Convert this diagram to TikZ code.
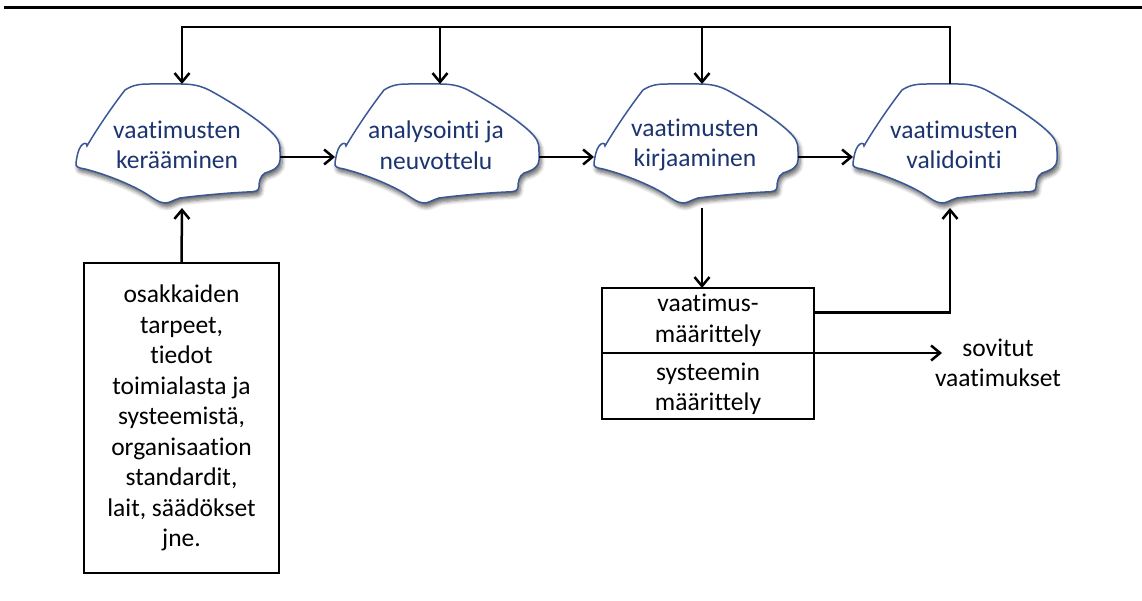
\documentclass[tikz,border=0pt]{standalone}
\usepackage{fontspec}
\setmainfont{Carlito}[Ligatures=NoCommon]
\usetikzlibrary{arrows.meta,shadows.blur,calc}

\definecolor{cloudedge}{RGB}{59,88,150}
\definecolor{cloudink}{RGB}{28,52,112}

\tikzset{
  flow/.style={line width=2.5pt, black},
  arr/.style={flow, -{Straight Barb[length=9pt,width=15pt,line width=2.5pt]}},
  txt/.style={font=\fontsize{25.5}{30.5}\selectfont, align=center, inner sep=0pt},
  framebox/.style={draw, line width=2.5pt, inner sep=0pt, outer sep=0pt},
  cloudshape/.style={draw=cloudedge, line width=1.5pt, fill=white,
    blur shadow={shadow xshift=2pt, shadow yshift=-4pt, shadow blur radius=4pt,
                 shadow blur steps=6, shadow opacity=60}},
  % a process cloud; #1 = label, #2 = x of the feedback entry on its top
  pics/procloud/.style n args={2}{code={
    \draw[cloudshape]
      (50,6) .. controls (58,1) and (64,0) .. (75,0) -- (106,0)
      .. controls (118,0) and (126,2) .. (134,6)
      .. controls (160,20) and (190,40) .. (200,52)
      .. controls (205,58) and (205,62) .. (205,68) -- (205,76)
      .. controls (205,82) and (200,86) .. (190,89)
      .. controls (185,92) and (184,98) .. (184,103)
      .. controls (184,107) and (180,108) .. (172,108)
      .. controls (150,109) and (120,112) .. (105,114)
      .. controls (98,116) and (95,119) .. (90,119)
      .. controls (84,119) and (78,114) .. (70,109)
      .. controls (55,100) and (30,90) .. (10,85)
      .. controls (4,84) and (0,83) .. (1,79)
      .. controls (2,72) and (3,66) .. (6,62)
      .. controls (8,59) and (12,58) .. (12,62)
      .. controls (20,48) and (36,24) .. (50,6) -- cycle;
    \node[txt, text=cloudink] (-t) at (102,61) {#1};
    \coordinate (-in)  at (1,73);
    \coordinate (-out) at (205,73);
    \coordinate (-top) at (#2,0);
    \coordinate (-bot) at (#2,124);
  }}
}

\begin{document}
\begin{tikzpicture}[x=1pt, y=-1pt]
  \useasboundingbox (0,0) rectangle (1142,601);

  % rule across the head of the figure
  \draw[line width=3pt] (4,8) -- (1142,8);

  % the four process stages
  \pic (c1) at (75,84)  {procloud={vaatimusten\\kerääminen}{107}};
  \pic (c2) at (334,84) {procloud={analysointi ja\\neuvottelu}{106}};
  \pic (c3) at (593,84) {procloud={vaatimusten\\kirjaaminen}{109}};
  \pic (c4) at (852,84) {procloud={vaatimusten\\validointi}{98}};

  % inputs and outputs
  \node[framebox, txt, minimum width=195pt, minimum height=310pt] (inp) at (181.5,418)
    {osakkaiden\\tarpeet,\\tiedot\\toimialasta ja\\systeemistä,\\organisaation\\standardit,\\lait, säädökset\\jne.};
  \node[framebox, txt, minimum width=212pt, minimum height=65pt] (vm) at (708,320.5)
    {vaatimus-\\määrittely};
  \node[framebox, minimum width=212pt, minimum height=66pt, anchor=north] (sm) at (vm.south) {};
  \node[txt] (smt) at ($(sm.center)+(0,3)$) {systeemin\\määrittely};
  \node[txt] (sov) at (998,363) {sovitut\\vaatimukset};
  \coordinate (sovin) at (942,353);
  \coordinate (loop) at (0,27);

  % main flow
  \draw[arr] (c1-out) -- (c2-in);
  \draw[arr] (c2-out) -- (c3-in);
  \draw[arr] (c3-out) -- (c4-in);

  % feedback from validation to every stage
  \draw[arr] (c4-top) -- (c4-top |- loop) -| (c1-top);
  \draw[arr] (c2-top |- loop) -- (c2-top);
  \draw[arr] (c3-top |- loop) -- (c3-top);

  % documents
  \draw[arr] (inp.north) -- (c1-bot);
  \draw[arr] (c3-bot) -- (c3-bot |- vm.north);
  \draw[arr] ($(vm.north east)!0.38!(vm.south east)$) -| (c4-bot);
  \draw[arr] (vm.south east) -- (sovin);
\end{tikzpicture}
\end{document}
